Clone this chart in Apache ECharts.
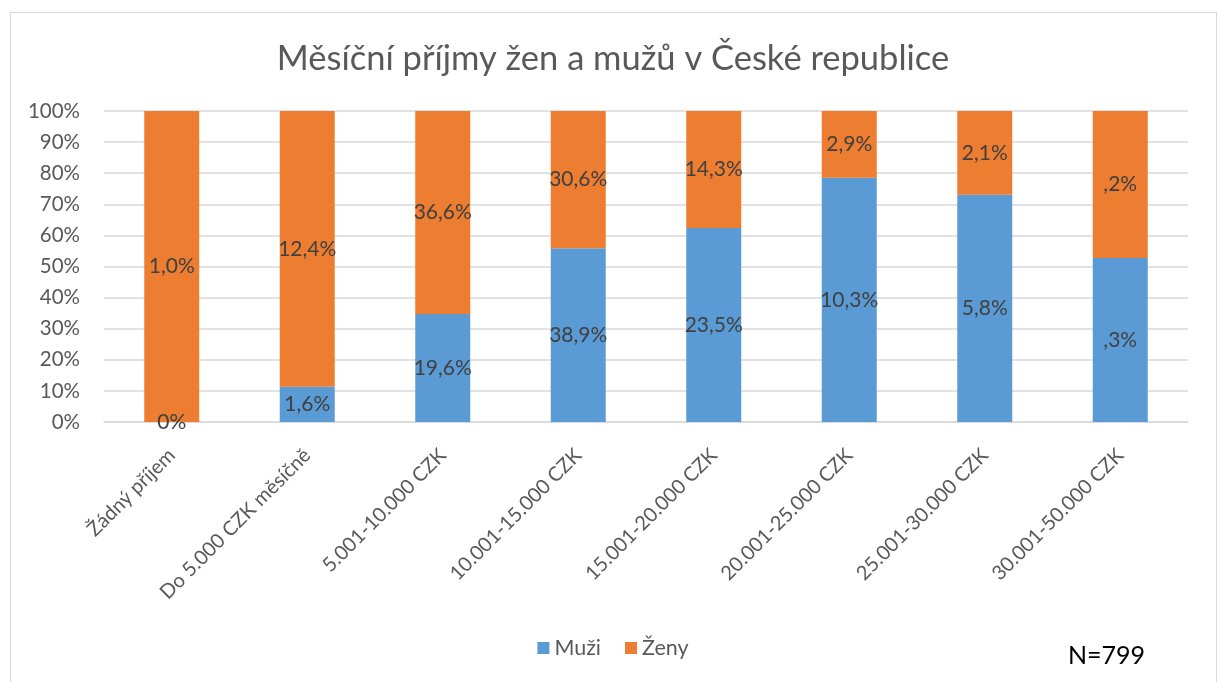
<!DOCTYPE html>
<html>
<head>
<meta charset="utf-8">
<script src="https://cdn.jsdelivr.net/npm/echarts@6/dist/echarts.min.js"></script>
<style>
  html, body { margin: 0; padding: 0; background: #fff; }
  #chart { width: 1226px; height: 682px; }
  #frame { position: absolute; left: 10px; top: 12px; width: 1207px; height: 700px; border: 1px solid #d9d9d9; box-sizing: border-box; pointer-events: none; }
</style>
</head>
<body>
<div id="chart"></div>
<div id="frame"></div>
<script>
// kategorie příjmů
var categories = ['Žádný příjem', 'Do 5.000 CZK měsíčně', '5.001-10.000 CZK', '10.001-15.000 CZK',
  '15.001-20.000 CZK', '20.001-25.000 CZK', '25.001-30.000 CZK', '30.001-50.000 CZK'];
// podíl mužů a žen ve sloupci (výška segmentu, %)
var menShare = [0, 11.3, 34.7, 55.9, 62.4, 78.5, 73.1, 52.7];
var womenShare = [100, 88.7, 65.3, 44.1, 37.6, 21.5, 26.9, 47.3];
// popisky dat
var menLabels = ['0%', '1,6%', '19,6%', '38,9%', '23,5%', '10,3%', '5,8%', ',3%'];
var womenLabels = ['1,0%', '12,4%', '36,6%', '30,6%', '14,3%', '2,9%', '2,1%', ',2%'];
var yTicks = [0, 10, 20, 30, 40, 50, 60, 70, 80, 90, 100];

var font = 'Lato, sans-serif';
var myChart = echarts.init(document.getElementById('chart'));

var option = {
  animation: false,
  textStyle: { fontFamily: font },
  title: {
    text: 'Měsíční příjmy žen a mužů v České republice',
    left: 'center',
    top: 36,
    textStyle: { fontFamily: font, fontSize: 34.5, fontWeight: 'normal', color: '#595959' }
  },
  legend: {
    data: ['Muži', 'Ženy'],
    bottom: 18,
    left: 'center',
    itemWidth: 12,
    itemHeight: 12,
    itemGap: 24,
    icon: 'rect',
    textStyle: { fontFamily: font, fontSize: 21.5, color: '#595959' }
  },
  grid: { left: 104, right: 38, top: 111, bottom: 260 },
  xAxis: {
    type: 'category',
    data: categories,
    axisLine: { lineStyle: { color: '#d9d9d9', width: 1.5 } },
    axisTick: { show: false },
    axisLabel: { rotate: 45, margin: 30, fontFamily: font, fontSize: 20, color: '#595959', interval: 0 }
  },
  yAxis: {
    type: 'value',
    min: 0,
    max: 100,
    interval: 10,
    axisLine: { show: false },
    axisTick: { show: false },
    splitLine: { lineStyle: { color: '#d9d9d9', width: 1.5 } },
    axisLabel: {
      margin: 24,
      fontFamily: font, fontSize: 20.5, color: '#595959',
      formatter: function (v) { return yTicks.indexOf(v) >= 0 ? v + '%' : ''; }
    }
  },
  series: [
    {
      name: 'Muži',
      type: 'bar',
      stack: 'total',
      data: menShare,
      barWidth: 55,
      itemStyle: { color: '#5B9BD5' },
      label: {
        show: true,
        position: 'inside',
        fontFamily: font, fontSize: 21, color: '#404040',
        formatter: function (p) { return menLabels[p.dataIndex]; }
      }
    },
    {
      name: 'Ženy',
      type: 'bar',
      stack: 'total',
      data: womenShare,
      barWidth: 55,
      itemStyle: { color: '#ED7D31' },
      label: {
        show: true,
        position: 'inside',
        fontFamily: font, fontSize: 21, color: '#404040',
        formatter: function (p) { return womenLabels[p.dataIndex]; }
      }
    }
  ],
  graphic: [{
    type: 'text',
    left: 1068,
    top: 643,
    style: { text: 'N=799', fontFamily: font, fontSize: 25, fill: '#000' }
  }]
};

myChart.setOption(option);
</script>
</body>
</html>
